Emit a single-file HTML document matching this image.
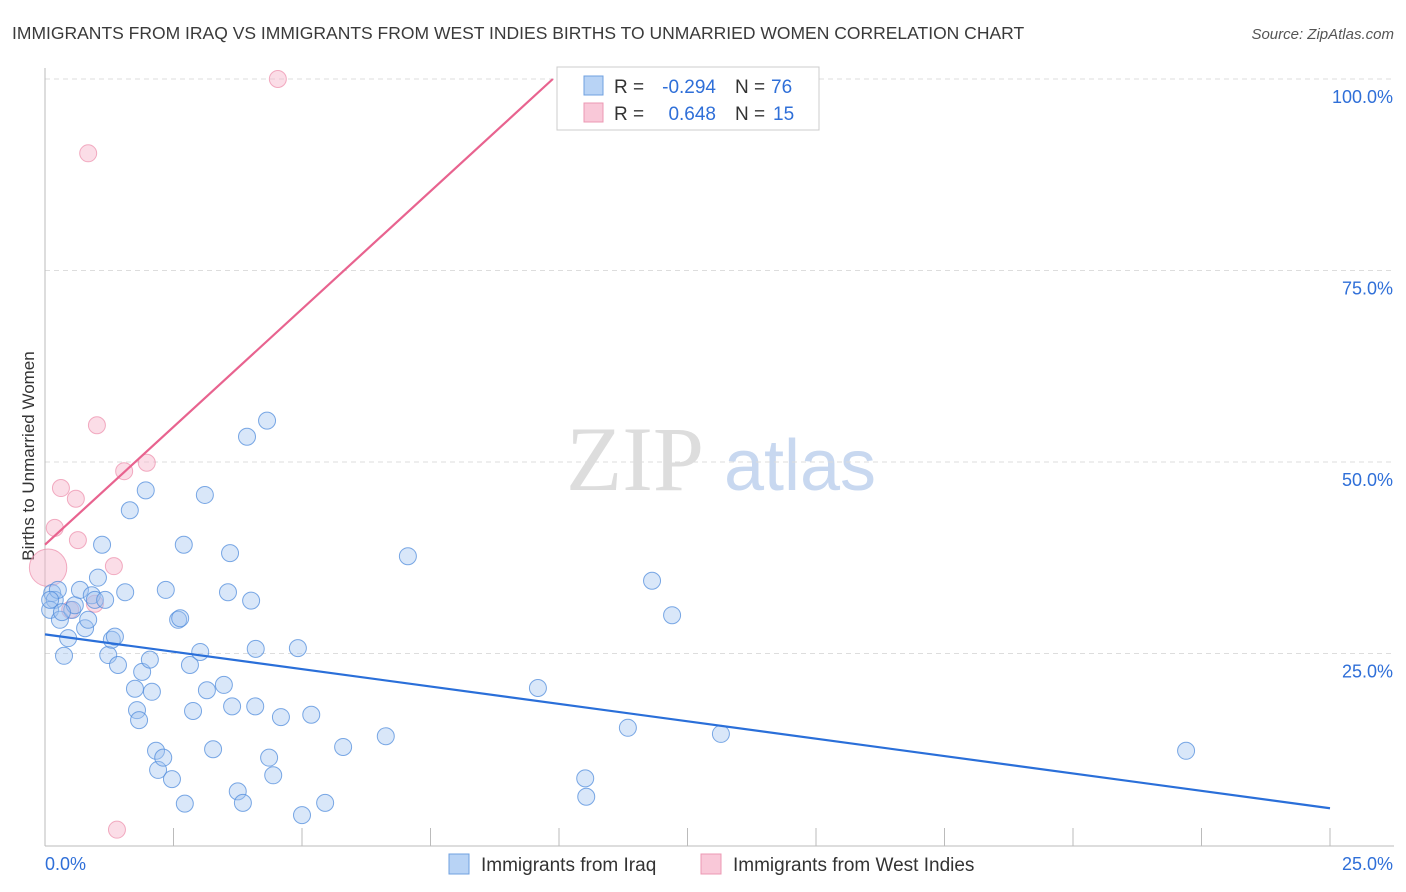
<!DOCTYPE html>
<html><head><meta charset="utf-8"><style>
body{margin:0;background:#fff;font-family:"Liberation Sans",sans-serif;}
svg{display:block}
</style></head><body>
<svg id="chart" width="1406" height="892">
<text x="12" y="39" font-size="17.5" fill="#3a3a3a">IMMIGRANTS FROM IRAQ VS IMMIGRANTS FROM WEST INDIES BIRTHS TO UNMARRIED WOMEN CORRELATION CHART</text>
<text x="1394" y="39" font-size="15" fill="#555" text-anchor="end" font-style="italic">Source: ZipAtlas.com</text>
<text x="34" y="456" font-size="17" fill="#333" text-anchor="middle" transform="rotate(-90 34 456)">Births to Unmarried Women</text>
<g><text x="635" y="490" font-size="92" fill="#ddd" font-family="Liberation Serif,serif" text-anchor="middle">ZIP</text><text x="800" y="490" font-size="72" fill="#c8d8f0" text-anchor="middle">atlas</text></g>
<g id="grid"></g><g id="axes"></g><g id="pts"></g><g id="lines"></g>
<g>
<rect x="557" y="67" width="262" height="63" fill="#fff" stroke="#ccc"/>
<rect x="584" y="76" width="19" height="19" fill="#b8d3f5" stroke="#6fa0e0"/>
<rect x="584" y="103" width="19" height="19" fill="#f9c8d8" stroke="#ec98b3"/>
<text x="614" y="93" font-size="19" fill="#333">R =</text>
<text x="716" y="93" font-size="19" fill="#2f6fd8" text-anchor="end">-0.294</text>
<text x="735" y="93" font-size="19" fill="#333">N =</text>
<text x="771" y="93" font-size="19" fill="#2f6fd8">76</text>
<text x="614" y="120" font-size="19" fill="#333">R =</text>
<text x="716" y="120" font-size="19" fill="#2f6fd8" text-anchor="end">0.648</text>
<text x="735" y="120" font-size="19" fill="#333">N =</text>
<text x="773" y="120" font-size="19" fill="#2f6fd8">15</text>
</g>
<g>
<rect x="449" y="854" width="20" height="20" fill="#b8d3f5" stroke="#6fa0e0"/>
<text x="481" y="871" font-size="19" fill="#333">Immigrants from Iraq</text>
<rect x="701" y="854" width="20" height="20" fill="#f9c8d8" stroke="#ec98b3"/>
<text x="733" y="871" font-size="19" fill="#333">Immigrants from West Indies</text>
</g>
</svg>
<script>
const yTicks=[25,50,75,100];
const yTickLabels=["25.0%","50.0%","75.0%","100.0%"];
const xTickCount=10;
const iraqX=[0.14,0.19,0.25,0.10,0.29,0.37,0.45,0.53,0.58,0.68,0.78,0.84,0.91,0.97,1.03,1.11,1.17,1.23,1.30,1.36,1.42,1.56,1.65,1.75,1.79,1.83,1.89,1.96,2.04,2.08,2.16,2.20,2.30,2.35,2.47,2.59,2.63,2.70,2.72,2.82,2.88,3.02,3.11,3.15,3.27,3.48,3.56,3.60,3.64,3.75,3.85,3.93,4.01,4.09,4.10,4.32,4.36,4.44,4.59,4.92,5.00,5.18,5.45,5.80,6.63,7.06,9.59,10.51,10.53,11.34,11.81,12.20,13.15,22.20,0.10,0.33];
const iraqY=[32.9,32.0,33.3,30.7,29.4,24.7,27.0,30.7,31.3,33.3,28.3,29.4,32.6,32.0,34.9,39.2,32.0,24.8,26.8,27.2,23.5,33.0,43.7,20.4,17.6,16.3,22.6,46.3,24.2,20.0,12.3,9.8,11.4,33.3,8.6,29.4,29.6,39.2,5.4,23.5,17.5,25.2,45.7,20.2,12.5,20.9,33.0,38.1,18.1,7.0,5.5,53.3,31.9,18.1,25.6,55.4,11.4,9.1,16.7,25.7,3.9,17.0,5.5,12.8,14.2,37.7,20.5,8.7,6.3,15.3,34.5,30.0,14.5,12.3,32.0,30.4];
const wiX=[4.53,0.84,1.01,1.54,1.98,0.31,0.60,0.19,0.64,1.34,0.06,0.97,0.49,1.40,11.30];
const wiY=[100.0,90.3,54.8,48.8,49.9,46.6,45.2,41.4,39.8,36.4,36.2,31.5,30.7,2.0,99.9];
const wiSize=[1,1,1,1,1,1,1,1,1,1,2.2,1,1,1,1];
const iraqTrend=[27.5,4.8];
const wiTrend=[39.2,100,9.88];
const xMax=25;
const X=v=>45+v/xMax*1285, Y=v=>845-v/100*766;
const NS="http://www.w3.org/2000/svg";
function mk(p,t,a){const e=document.createElementNS(NS,t);for(const k in a)e.setAttribute(k,a[k]);p.appendChild(e);return e;}
const grid=document.getElementById('grid'),axes=document.getElementById('axes'),pts=document.getElementById('pts'),lines=document.getElementById('lines');
yTicks.forEach((t,i)=>{
 const l=mk(grid,'line',{x1:45,x2:1394,y1:Y(t),y2:Y(t),stroke:'#ddd','stroke-dasharray':'5,4'});
 
 
 const tx=mk(axes,'text',{x:1393,y:Y(t)+24,'font-size':18,fill:'#2f6fd8','text-anchor':'end'});
 tx.textContent=yTickLabels[i];
 
 
});
const ya=mk(axes,'line',{x1:45,x2:45,y1:68,y2:846,stroke:'#bbb'});


const xa=mk(axes,'line',{x1:45,x2:1394,y1:846,y2:846,stroke:'#bbb'});


for(let i=1;i<=xTickCount;i++){const v=xMax*i/xTickCount;
 const t=mk(axes,'line',{x1:X(v),x2:X(v),y1:828,y2:846,stroke:'#bbb'});
 
 }
const x0=mk(axes,'text',{x:45,y:870,'font-size':18,fill:'#2f6fd8'});x0.textContent='0.0%';


const x1=mk(axes,'text',{x:1393,y:870,'font-size':18,fill:'#2f6fd8','text-anchor':'end'});x1.textContent='25.0%';


wiX.forEach((v,i)=>{const c=mk(pts,'circle',{cx:X(v),cy:Y(wiY[i]),r:8.5*wiSize[i],fill:'rgba(247,180,202,0.45)',stroke:'rgba(236,140,170,0.7)'});
 
 });
iraqX.forEach((v,i)=>{const c=mk(pts,'circle',{cx:X(v),cy:Y(iraqY[i]),r:8.5,fill:'rgba(160,196,240,0.4)',stroke:'rgba(80,140,220,0.75)'});
 
 });
const bl=mk(lines,'line',{x1:X(0),y1:Y(iraqTrend[0]),x2:X(xMax),y2:Y(iraqTrend[1]),stroke:'#2a6fd9','stroke-width':2.2});


const pl=mk(lines,'line',{x1:X(0),y1:Y(wiTrend[0]),x2:X(wiTrend[2]),y2:Y(wiTrend[1]),stroke:'#e8638f','stroke-width':2.2});


</script>
</body></html>
